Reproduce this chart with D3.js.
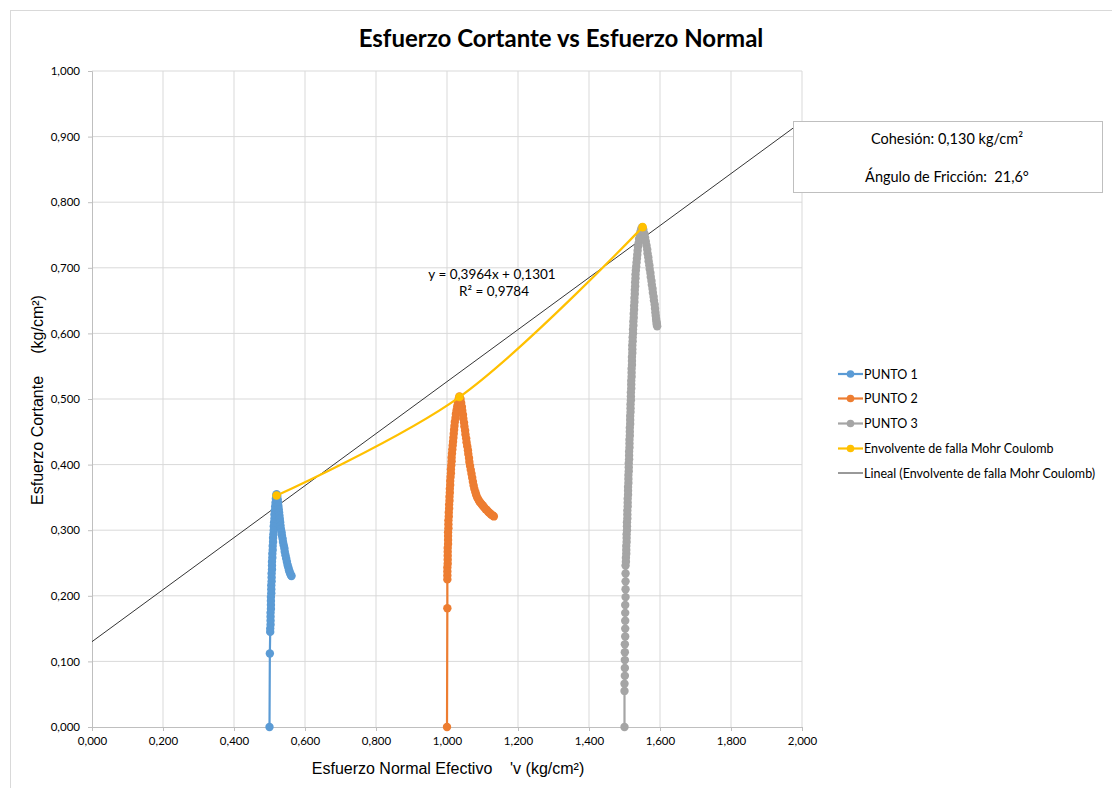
<!DOCTYPE html>
<html>
<head>
<meta charset="utf-8">
<title>Esfuerzo Cortante vs Esfuerzo Normal</title>
<script src="https://d3js.org/d3.v7.min.js"></script>
<style>
  body { margin: 0; background: #fff; }
  text { font-family: Lato, "Open Sans", sans-serif; fill: #000; }
  .axt { font-family: "Liberation Sans", Arial, sans-serif; }
</style>
</head>
<body>
<script>
// PUNTO 1 (blue) [sigma'v, tau]
var punto1 = [
  [0.500, 0.000], [0.501, 0.112],
  [0.502, 0.145], [0.502, 0.150], [0.503, 0.156], [0.503, 0.162], [0.503, 0.168], [0.503, 0.174], [0.504, 0.180],
  [0.504, 0.186], [0.504, 0.192], [0.504, 0.198], [0.505, 0.204], [0.505, 0.210], [0.505, 0.216], [0.506, 0.222],
  [0.506, 0.228], [0.506, 0.234], [0.507, 0.240], [0.507, 0.246], [0.507, 0.252], [0.508, 0.258], [0.508, 0.264],
  [0.509, 0.270], [0.509, 0.276], [0.510, 0.282], [0.510, 0.288], [0.511, 0.294], [0.512, 0.300], [0.512, 0.306],
  [0.513, 0.312], [0.514, 0.318], [0.514, 0.324], [0.515, 0.330], [0.516, 0.336], [0.517, 0.342], [0.518, 0.348],
  [0.519, 0.353], [0.520, 0.355],
  [0.522, 0.352], [0.523, 0.347], [0.524, 0.342], [0.525, 0.337], [0.526, 0.332], [0.527, 0.327], [0.528, 0.322],
  [0.529, 0.317], [0.530, 0.312], [0.531, 0.307], [0.532, 0.302], [0.534, 0.297], [0.535, 0.292], [0.537, 0.287],
  [0.538, 0.282], [0.540, 0.277], [0.542, 0.272], [0.543, 0.267], [0.545, 0.262], [0.547, 0.257], [0.549, 0.252],
  [0.551, 0.247], [0.553, 0.243], [0.555, 0.239], [0.557, 0.236], [0.559, 0.233], [0.561, 0.231], [0.562, 0.230]
];

// PUNTO 2 (orange)
var punto2 = [
  [1.000, 0.000], [1.001, 0.181],
  [1.001, 0.225], [1.001, 0.231], [1.001, 0.237], [1.001, 0.243], [1.002, 0.249], [1.002, 0.255], [1.002, 0.261],
  [1.002, 0.267], [1.002, 0.273], [1.003, 0.279], [1.003, 0.285], [1.003, 0.291], [1.003, 0.297], [1.004, 0.303],
  [1.004, 0.309], [1.004, 0.315], [1.005, 0.321], [1.005, 0.327], [1.006, 0.333], [1.006, 0.339], [1.007, 0.345],
  [1.007, 0.351], [1.008, 0.357], [1.008, 0.363], [1.009, 0.369], [1.009, 0.375], [1.010, 0.381], [1.011, 0.387],
  [1.011, 0.393], [1.012, 0.399], [1.013, 0.405], [1.013, 0.411], [1.014, 0.417], [1.015, 0.423], [1.016, 0.429],
  [1.017, 0.435], [1.018, 0.441], [1.019, 0.447], [1.020, 0.453], [1.021, 0.459], [1.022, 0.465], [1.024, 0.471],
  [1.025, 0.477], [1.027, 0.483], [1.029, 0.489], [1.031, 0.495], [1.033, 0.500], [1.035, 0.504],
  [1.038, 0.500], [1.040, 0.494], [1.042, 0.488], [1.043, 0.482], [1.045, 0.476], [1.046, 0.470], [1.048, 0.464],
  [1.049, 0.458], [1.051, 0.452], [1.052, 0.446], [1.054, 0.440], [1.055, 0.434], [1.057, 0.428], [1.059, 0.422],
  [1.060, 0.416], [1.062, 0.410], [1.063, 0.404], [1.065, 0.398], [1.067, 0.392], [1.069, 0.386], [1.071, 0.380],
  [1.073, 0.374], [1.075, 0.368], [1.077, 0.363], [1.080, 0.358], [1.082, 0.354], [1.085, 0.350], [1.088, 0.347],
  [1.091, 0.344], [1.094, 0.342], [1.097, 0.340], [1.100, 0.338], [1.103, 0.336], [1.106, 0.334], [1.109, 0.332],
  [1.112, 0.331], [1.115, 0.329], [1.118, 0.327], [1.121, 0.326], [1.124, 0.324], [1.127, 0.323], [1.130, 0.322],
  [1.132, 0.321]
];

// PUNTO 3 (gray)
var punto3 = [
  [1.500, 0.000], [1.500, 0.055], [1.500, 0.066], [1.501, 0.078], [1.501, 0.090], [1.501, 0.102], [1.501, 0.114],
  [1.501, 0.126], [1.502, 0.138], [1.502, 0.150], [1.502, 0.162], [1.502, 0.174], [1.502, 0.186], [1.503, 0.198],
  [1.503, 0.210], [1.503, 0.222], [1.503, 0.234], [1.503, 0.246],
  [1.504, 0.252], [1.504, 0.258], [1.505, 0.264], [1.505, 0.270], [1.505, 0.276], [1.506, 0.282], [1.506, 0.288],
  [1.506, 0.294], [1.507, 0.300], [1.507, 0.306], [1.507, 0.312], [1.508, 0.318], [1.508, 0.324], [1.508, 0.330],
  [1.509, 0.336], [1.509, 0.342], [1.509, 0.348], [1.510, 0.354], [1.510, 0.360], [1.510, 0.366], [1.511, 0.372],
  [1.511, 0.378], [1.511, 0.384], [1.512, 0.390], [1.512, 0.396], [1.512, 0.402], [1.513, 0.408], [1.513, 0.414],
  [1.513, 0.420], [1.514, 0.426], [1.514, 0.432], [1.514, 0.438], [1.515, 0.444], [1.515, 0.450], [1.515, 0.456],
  [1.516, 0.462], [1.516, 0.468], [1.516, 0.474], [1.517, 0.480], [1.517, 0.486], [1.517, 0.492], [1.518, 0.498],
  [1.518, 0.504], [1.518, 0.510], [1.519, 0.516], [1.519, 0.522], [1.519, 0.528], [1.520, 0.534], [1.520, 0.540],
  [1.520, 0.546], [1.521, 0.552], [1.521, 0.558], [1.521, 0.564], [1.522, 0.570], [1.522, 0.576], [1.522, 0.582],
  [1.523, 0.588], [1.523, 0.594], [1.524, 0.600], [1.524, 0.606], [1.525, 0.612], [1.525, 0.618], [1.526, 0.624],
  [1.526, 0.630], [1.527, 0.636], [1.527, 0.642], [1.528, 0.648], [1.528, 0.654], [1.529, 0.660], [1.529, 0.666],
  [1.530, 0.672], [1.530, 0.678], [1.531, 0.684], [1.531, 0.690], [1.532, 0.696], [1.533, 0.702], [1.534, 0.708],
  [1.535, 0.714], [1.536, 0.720], [1.537, 0.726], [1.538, 0.732], [1.540, 0.738], [1.541, 0.744], [1.543, 0.750],
  [1.545, 0.755], [1.547, 0.759], [1.550, 0.762],
  [1.553, 0.758], [1.556, 0.752], [1.558, 0.746], [1.560, 0.740], [1.562, 0.734], [1.564, 0.728], [1.565, 0.722],
  [1.567, 0.716], [1.568, 0.710], [1.570, 0.704], [1.571, 0.698], [1.573, 0.692], [1.574, 0.686], [1.576, 0.680],
  [1.577, 0.674], [1.579, 0.668], [1.580, 0.662], [1.582, 0.656], [1.583, 0.650], [1.585, 0.644], [1.586, 0.638],
  [1.587, 0.632], [1.588, 0.627], [1.589, 0.622], [1.590, 0.618], [1.591, 0.615], [1.591, 0.613], [1.592, 0.611]
];

// Envolvente de falla Mohr Coulomb (peak of each point)
var envolvente = [[0.520, 0.353], [1.035, 0.503], [1.551, 0.762]];

// Lineal trend: y = 0,3964x + 0,1301 (ends at x = 0 and x = 2)
var trendX = [0, 2];
var trendY = [0.1301, 0.9229];

var xTicks = [0, 0.2, 0.4, 0.6, 0.8, 1.0, 1.2, 1.4, 1.6, 1.8, 2.0];
var yTicks = [0, 0.1, 0.2, 0.3, 0.4, 0.5, 0.6, 0.7, 0.8, 0.9, 1.0];

var legendNames = ["PUNTO 1", "PUNTO 2", "PUNTO 3", "Envolvente de falla Mohr Coulomb", "Lineal (Envolvente de falla Mohr Coulomb)"];
var colors = ["#5B9BD5", "#ED7D31", "#A5A5A5", "#FFC000", "#000000"];

var width = 1112, height = 788;
var fmt = function (v) { return d3.format(".3f")(v).replace(".", ","); };

var svg = d3.select("body").append("svg")
    .attr("width", width)
    .attr("height", height);

// chart frame
svg.append("rect")
    .attr("x", 10.5).attr("y", 10.5)
    .attr("width", 1120).attr("height", 800)
    .attr("fill", "#fff").attr("stroke", "#d9d9d9");

var x = d3.scaleLinear().domain([0, 2]).range([92, 802]);
var y = d3.scaleLinear().domain([0, 1]).range([727, 71]);

// grid
svg.append("g").selectAll("line").data(xTicks.slice(1)).enter().append("line")
    .attr("x1", d => x(d)).attr("x2", d => x(d))
    .attr("y1", y(0)).attr("y2", y(1))
    .attr("stroke", "#d9d9d9").attr("stroke-width", 1);
svg.append("g").selectAll("line").data(yTicks.slice(1)).enter().append("line")
    .attr("x1", x(0)).attr("x2", x(2))
    .attr("y1", d => y(d)).attr("y2", d => y(d))
    .attr("stroke", "#d9d9d9").attr("stroke-width", 1);

// axes
var xAxis = svg.append("g").attr("transform", "translate(0," + y(0) + ")")
    .call(d3.axisBottom(x).tickValues(xTicks).tickFormat(fmt).tickSize(4).tickPadding(6));
var yAxis = svg.append("g").attr("transform", "translate(" + x(0) + ",0)")
    .call(d3.axisLeft(y).tickValues(yTicks).tickFormat(fmt).tickSize(4).tickPadding(8));
[xAxis, yAxis].forEach(function (a) {
    a.select(".domain").attr("stroke", "#bfbfbf");
    a.selectAll(".tick line").attr("stroke", "#bfbfbf");
    a.selectAll("text").style("font-family", "Lato, sans-serif").style("font-size", "11.5px").attr("fill", "#000");
});

// trendline
svg.append("line")
    .attr("x1", x(trendX[0])).attr("y1", y(trendY[0]))
    .attr("x2", x(trendX[1])).attr("y2", y(trendY[1]))
    .attr("stroke", "#000").attr("stroke-width", 0.8);

// series
var line = d3.line().x(d => x(d[0])).y(d => y(d[1]));
[punto1, punto2, punto3].forEach(function (pts, k) {
    var g = svg.append("g");
    g.append("path").attr("d", line(pts))
        .attr("fill", "none").attr("stroke", colors[k]).attr("stroke-width", 2.2);
    g.selectAll("circle").data(pts).enter().append("circle")
        .attr("cx", d => x(d[0])).attr("cy", d => y(d[1]))
        .attr("r", 4.2).attr("fill", colors[k]);
});

// envelope (smoothed)
svg.append("path")
    .attr("d", d3.line().x(d => x(d[0])).y(d => y(d[1])).curve(d3.curveCatmullRom.alpha(0.5))(envolvente))
    .attr("fill", "none").attr("stroke", colors[3]).attr("stroke-width", 2.2);
svg.append("g").selectAll("circle").data(envolvente).enter().append("circle")
    .attr("cx", d => x(d[0])).attr("cy", d => y(d[1]))
    .attr("r", 4.3).attr("fill", colors[3]);

// trend equation
svg.append("text").attr("x", 492).attr("y", 279).attr("text-anchor", "middle")
    .style("font-size", "13.5px").text("y = 0,3964x + 0,1301");
svg.append("text").attr("x", 494).attr("y", 296).attr("text-anchor", "middle")
    .style("font-size", "13.5px").text("R² = 0,9784");

// title
svg.append("text").attr("x", 561).attr("y", 47).attr("text-anchor", "middle")
    .style("font-size", "24px").style("font-weight", "bold")
    .text("Esfuerzo Cortante vs Esfuerzo Normal");

// axis titles
svg.append("text").attr("class", "axt")
    .attr("x", 448).attr("y", 774).attr("text-anchor", "middle")
    .attr("xml:space", "preserve").style("white-space", "pre")
    .style("font-size", "16px")
    .text("Esfuerzo Normal Efectivo    'v (kg/cm²)");
svg.append("text").attr("class", "axt")
    .attr("transform", "translate(43,400) rotate(-90)")
    .attr("text-anchor", "middle")
    .attr("xml:space", "preserve").style("white-space", "pre")
    .style("font-size", "16px")
    .text("Esfuerzo Cortante     (kg/cm²)");

// legend
var legY = [374, 398.5, 423.5, 448.5, 473];
var leg = svg.append("g").selectAll("g").data(legendNames).enter().append("g")
    .attr("transform", (d, i) => "translate(838," + legY[i] + ")");
leg.append("line").attr("x1", 0).attr("x2", 25).attr("y1", 0).attr("y2", 0)
    .attr("stroke", (d, i) => colors[i]).attr("stroke-width", (d, i) => i < 4 ? 2.2 : 0.8);
leg.filter((d, i) => i < 4).append("circle").attr("cx", 12.5).attr("cy", 0).attr("r", 3.8)
    .attr("fill", (d, i) => colors[i]);
leg.append("text").attr("x", 26).attr("y", 4.5).style("font-size", "12.5px").text(d => d);

// info box
svg.append("rect").attr("x", 793.5).attr("y", 121.5).attr("width", 309).attr("height", 71)
    .attr("fill", "#fff").attr("stroke", "#bfbfbf");
svg.append("text").attr("x", 947).attr("y", 144).attr("text-anchor", "middle")
    .style("font-size", "14.5px").text("Cohesión: 0,130 kg/cm²");
svg.append("text").attr("x", 947).attr("y", 182).attr("text-anchor", "middle")
    .attr("xml:space", "preserve").style("white-space", "pre")
    .style("font-size", "14.5px").text("Ángulo de Fricción:  21,6°");
</script>
</body>
</html>
